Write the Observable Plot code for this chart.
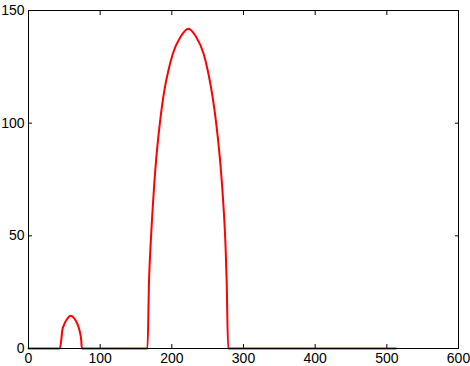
<!DOCTYPE html>
<html>
<head>
<meta charset="utf-8">
<script src="https://cdn.jsdelivr.net/npm/d3@7"></script>
<script src="https://cdn.jsdelivr.net/npm/@observablehq/plot@0.6"></script>
<style>
  html, body { margin: 0; padding: 0; background: #fff; }
  svg { display: block; }
</style>
</head>
<body>
<div id="chart"></div>
<script>
const xValues = [0, 43.7, 45.7, 47.1, 50.3, 54.1, 58.7, 64.2, 68.0, 71.2, 73.6, 74.4,
  166.0, 168.2, 170.2, 172.8, 175.8, 178.4, 183.2, 187.4, 190.4, 195.2, 201.4, 212.0, 223.0,
  234.0, 244.3, 250.1, 254.6, 257.6, 262.0, 266.9, 269.6, 272.7, 275.0, 276.5, 278.6, 512.6];
const yValues = [0, 0, 3.6, 8.0, 11.0, 13.2, 14.5, 13.2, 11.0, 8.0, 3.6, 0,
  0, 30.2, 45.0, 59.8, 74.6, 84.9, 99.7, 110.1, 116.0, 123.4, 130.8, 138.2, 141.9,
  138.2, 130.8, 123.4, 116.0, 110.1, 99.7, 84.9, 74.6, 59.8, 45.0, 30.2, 0, 0];
const xTicks = [0, 100, 200, 300, 400, 500, 600];
const yTicks = [0, 50, 100, 150];

const data = xValues.map((x, i) => ({x, y: yValues[i]}));

const chart = Plot.plot({
  width: 470,
  height: 366,
  marginLeft: 28,
  marginRight: 12,
  marginTop: 10,
  marginBottom: 18,
  style: {fontFamily: "Liberation Sans, Arial, sans-serif", fontSize: "14px", color: "#000", background: "#fff"},
  x: {domain: [0, 600]},
  y: {domain: [0, 150]},
  marks: [
    Plot.lineY(data, {x: "x", y: "y", stroke: "#ff0000", strokeWidth: 2, curve: "monotone-x"}),
    Plot.frame({stroke: "#000", strokeWidth: 1}),
    Plot.axisX({ticks: xTicks, tickSize: -4, tickPadding: 9, label: null, fontSize: 14}),
    Plot.axisX({anchor: "top", ticks: xTicks, tickSize: -4, tickFormat: () => "", label: null}),
    Plot.axisY({ticks: yTicks, tickSize: -4, tickPadding: 8, label: null, fontSize: 14}),
    Plot.axisY({anchor: "right", ticks: yTicks, tickSize: -4, tickFormat: () => "", label: null})
  ]
});
document.getElementById("chart").appendChild(chart);
</script>
</body>
</html>
